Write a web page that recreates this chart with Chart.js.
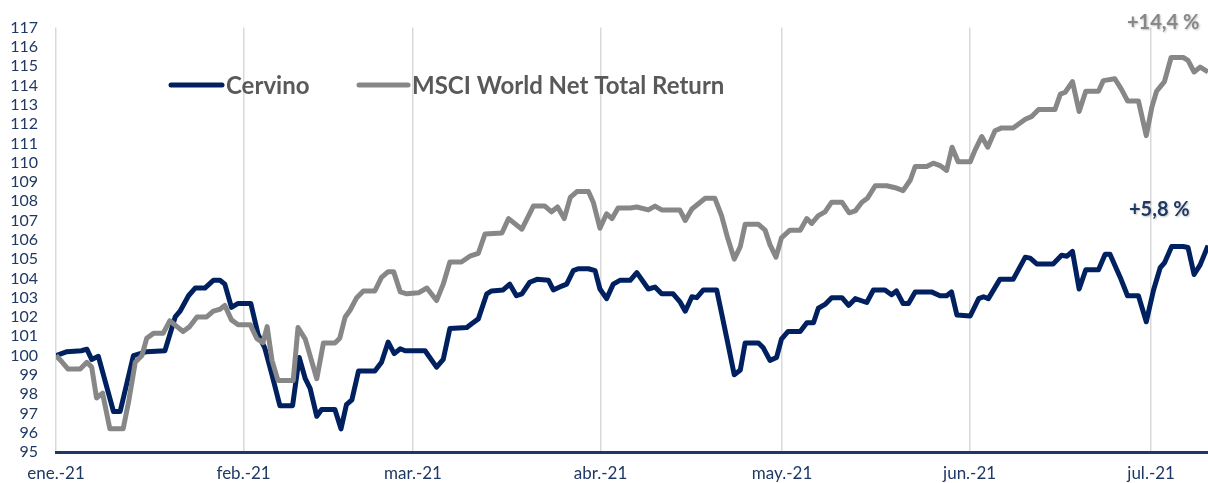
<!DOCTYPE html>
<html>
<head>
<meta charset="utf-8">
<script src="https://cdn.jsdelivr.net/npm/chart.js@4"></script>
<style>
  body { margin: 0; background: #fff; }
  #wrap { width: 1208px; height: 483px; position: relative; }
</style>
</head>
<body>
<div id="wrap"><canvas id="myChart"></canvas></div>
<script>
// days counted from 1 Jan 2021
var monthStarts = [0, 31, 59, 90, 120, 151, 181];
var monthLabels = ['ene.-21', 'feb.-21', 'mar.-21', 'abr.-21', 'may.-21', 'jun.-21', 'jul.-21'];

var cervinoDays = [0, 1.8, 4.2, 5.1, 5.9, 7.0, 9.5, 10.6, 12.8, 15.0, 18.0, 19.7, 20.5, 21.9, 23.0, 24.6, 26.0, 27.1, 27.9, 29.0, 30.1,
  32.2, 33.4, 34.5, 35.7, 37.0, 39.1, 40.2, 41.2, 42.0, 43.1, 43.9, 46.1, 47.1, 48.0, 48.9, 50.0, 52.7, 53.8, 54.9, 55.9, 56.9, 57.7,
  61.0, 62.9, 64.0, 65.1, 67.9, 68.7, 69.8, 71.2, 72.0, 73.9, 75.0, 76.1, 77.0, 78.3, 79.5, 81.4, 82.2, 83.6, 84.4, 85.5, 86.3, 88.0, 89.1,
  89.9, 91.0, 92.1, 93.2, 94.9, 96.0, 97.9, 99.0, 100.1, 102.0, 103.1, 104.0, 105.1, 105.9, 107.0, 109.2, 110.0, 110.9, 112.1, 113.1,
  113.9, 116.1, 116.9, 118.0, 119.1, 119.9, 121.0, 123.0, 124.1, 125.2, 126.0, 127.1, 128.2, 129.9, 131.0, 132.1, 134.0, 135.1, 137.0,
  138.1, 138.9, 140.0, 140.9, 142.0, 144.7, 146.1, 147.2, 148.0, 148.9, 151.1, 152.5, 153.3, 154.1, 156.0, 158.2, 160.2, 161.0, 162.1,
  164.8, 166.2, 167.1, 168.0, 169.1, 170.2, 172.3, 173.4, 174.2, 175.9, 177.1, 178.9, 180.2, 181.4, 182.5, 183.2, 184.4, 186.3, 187.1,
  188.1, 189.1, 190.4];
var cervinoValues = [100.0, 100.2, 100.25, 100.33, 99.8, 99.96, 97.1, 97.1, 100.0, 100.2, 100.25, 102.0, 102.3, 103.1, 103.5, 103.5, 103.9, 103.9, 103.7, 102.5, 102.7,
  102.7, 101.1, 100.4, 99.0, 97.4, 97.4, 99.9, 98.8, 98.3, 96.85, 97.2, 97.2, 96.2, 97.45, 97.7, 99.2, 99.2, 99.65, 100.7, 100.1, 100.35, 100.25,
  100.25, 99.4, 99.8, 101.4, 101.45, 101.65, 101.9, 103.2, 103.35, 103.4, 103.7, 103.1, 103.2, 103.8, 103.95, 103.9, 103.4, 103.6, 103.7, 104.4, 104.5, 104.5, 104.4,
  103.45, 102.95, 103.7, 103.9, 103.9, 104.3, 103.45, 103.55, 103.2, 103.2, 102.8, 102.3, 103.05, 103.0, 103.4, 103.4, 102.2, 100.85, 99.0, 99.25,
  100.65, 100.65, 100.4, 99.75, 99.9, 100.85, 101.25, 101.25, 101.7, 101.7, 102.45, 102.65, 103.0, 103.0, 102.6, 102.95, 102.75, 103.4, 103.4,
  103.15, 103.35, 102.7, 102.7, 103.3, 103.3, 103.1, 103.1, 103.3, 102.1, 102.05, 102.95, 103.05, 102.95, 103.95, 103.95, 105.1, 105.05, 104.75,
  104.75, 105.2, 105.15, 105.4, 103.45, 104.45, 104.45, 105.25, 105.25, 104.05, 103.1, 103.1, 101.75, 103.4, 104.55, 104.8, 105.65, 105.65, 105.6,
  104.2, 104.7, 105.7];

var msciDays = [0, 0.9, 2.0, 4.0, 5.1, 5.9, 6.7, 7.7, 8.9, 11.1, 12.0, 13.1, 14.2, 15.0, 16.1, 17.7, 18.8, 20.0, 21.0, 22.1, 23.3, 24.9,
  26.0, 27.1, 27.9, 29.0, 30.1, 32.1, 33.2, 34.2, 34.9, 35.7, 36.7, 39.2, 40.0, 41.2, 43.1, 44.2, 46.1, 46.9, 47.8, 48.6, 49.7, 50.8,
  52.7, 53.8, 54.9, 55.8, 56.9, 58.0, 59.9, 61.3, 62.9, 64.0, 65.1, 67.0, 68.4, 69.8, 70.9, 73.7, 74.8, 77.0, 78.9, 80.8, 81.9, 82.9,
  84.0, 85.0, 86.1, 88.0, 88.8, 89.9, 91.0, 91.9, 92.9, 94.9, 96.0, 97.9, 99.0, 100.1, 103.1, 104.0, 105.1, 107.3, 108.9, 110.0, 111.0,
  112.1, 113.1, 113.9, 116.1, 117.2, 118.0, 119.0, 119.9, 121.3, 123.0, 124.1, 124.9, 126.0, 127.1, 128.2, 129.9, 131.1, 132.1, 133.2,
  134.1, 135.4, 137.3, 138.7, 140.0, 141.2, 142.0, 143.9, 145.0, 146.1, 147.2, 148.1, 149.1, 151.1, 151.9, 153.0, 154.0, 155.2, 156.3,
  158.2, 160.2, 161.3, 162.4, 165.1, 166.0, 166.8, 168.0, 169.1, 170.2, 172.3, 173.1, 175.0, 176.1, 177.1, 178.9, 180.2, 181.1, 181.9,
  183.2, 184.3, 186.3, 187.1, 188.1, 189.1, 190.4];
var msciValues = [100.0, 99.7, 99.3, 99.3, 99.65, 99.4, 97.8, 98.05, 96.2, 96.2, 97.6, 99.65, 100.0, 100.9, 101.15, 101.15, 101.8, 101.5, 101.25, 101.5, 102.0, 102.0,
  102.3, 102.4, 102.6, 101.85, 101.6, 101.6, 100.87, 100.67, 101.5, 99.75, 98.7, 98.7, 101.45, 100.85, 98.8, 100.65, 100.65, 100.9, 102.0, 102.35, 103.0, 103.35,
  103.35, 104.05, 104.35, 104.35, 103.3, 103.2, 103.25, 103.5, 102.85, 103.7, 104.85, 104.85, 105.15, 105.3, 106.3, 106.35, 107.1, 106.55, 107.75, 107.75, 107.45, 107.7,
  107.1, 108.2, 108.5, 108.5, 107.95, 106.6, 107.35, 107.1, 107.65, 107.65, 107.7, 107.55, 107.75, 107.55, 107.55, 107.0, 107.6, 108.15, 108.15, 107.25, 106.1,
  105.0, 105.65, 106.8, 106.8, 106.5, 105.75, 105.1, 106.1, 106.5, 106.5, 107.1, 106.85, 107.25, 107.45, 107.95, 107.95, 107.4, 107.5, 107.95,
  108.15, 108.8, 108.8, 108.7, 108.55, 109.1, 109.8, 109.8, 109.97, 109.85, 109.6, 110.8, 110.05, 110.05, 110.65, 111.35, 110.8, 111.65, 111.8,
  111.8, 112.25, 112.4, 112.75, 112.75, 113.55, 113.65, 114.2, 112.65, 113.7, 113.7, 114.25, 114.35, 113.8, 113.2, 113.2, 111.4, 112.85, 113.7,
  114.2, 115.45, 115.45, 115.3, 114.7, 114.95, 114.7];

var seriesNames = ['Cervino', 'MSCI World Net Total Return'];
var endLabels = ['+5,8 %', '+14,4 %'];

const navy = '#002060';
const grey = '#878787';
const axisBlue = '#1F3864';

const toPoints = (xs, ys) => xs.map((x, i) => ({ x: x, y: ys[i] }));

// legend drawn inside the plot, plus the end-of-line labels
const overlayPlugin = {
  id: 'overlay',
  afterDatasetsDraw(chart) {
    const ctx = chart.ctx;
    const y = 85;
    const items = [
      { color: navy, text: seriesNames[0], x0: 171, x1: 222 },
      { color: grey, text: seriesNames[1], x0: 359, x1: 408 }
    ];
    ctx.save();
    ctx.lineCap = 'round';
    ctx.lineWidth = 5;
    ctx.font = 'bold 24px Lato';
    ctx.textBaseline = 'middle';
    items.forEach(it => {
      ctx.strokeStyle = it.color;
      ctx.beginPath();
      ctx.moveTo(it.x0, y);
      ctx.lineTo(it.x1, y);
      ctx.stroke();
      ctx.fillStyle = '#595959';
      ctx.fillText(it.text, it.x1 + 4, y + 1);
    });

    ctx.font = 'bold 20px Lato';
    ctx.textAlign = 'left';
    ctx.shadowColor = 'rgba(0,0,0,0.25)';
    ctx.shadowBlur = 2;
    ctx.shadowOffsetX = 1;
    ctx.shadowOffsetY = 1;
    ctx.fillStyle = grey;
    ctx.fillText(endLabels[1], 1127, 23);
    ctx.fillStyle = axisBlue;
    ctx.fillText(endLabels[0], 1129, 210);
    ctx.restore();
  }
};

const data = {
  datasets: [
    {
      label: seriesNames[0],
      data: toPoints(cervinoDays, cervinoValues),
      borderColor: navy,
      backgroundColor: navy,
      borderWidth: 5,
      pointRadius: 0,
      tension: 0,
      borderJoinStyle: 'round',
      order: 2
    },
    {
      label: seriesNames[1],
      data: toPoints(msciDays, msciValues),
      borderColor: grey,
      backgroundColor: grey,
      borderWidth: 5,
      pointRadius: 0,
      tension: 0,
      borderJoinStyle: 'round',
      order: 1
    }
  ]
};

const config = {
  type: 'line',
  data: data,
  options: {
    responsive: true,
    maintainAspectRatio: false,
    animation: false,
    layout: { padding: { top: 17, right: 0, left: 0, bottom: 0 } },
    plugins: {
      legend: { display: false },
      tooltip: { enabled: false }
    },
    scales: {
      x: {
        type: 'linear',
        min: 0,
        max: 190.4,
        afterBuildTicks: scale => {
          scale.ticks = monthStarts.map(v => ({ value: v }));
        },
        afterFit: scale => { scale.height = 31; },
        ticks: {
          autoSkip: false,
          maxRotation: 0,
          padding: 11,
          color: axisBlue,
          font: { family: 'Lato', size: 17 },
          callback: value => monthLabels[monthStarts.indexOf(value)]
        },
        grid: { color: '#d9d9d9', lineWidth: 1.5, drawTicks: false },
        border: { display: true, color: axisBlue, width: 3 }
      },
      y: {
        min: 95,
        max: 117,
        afterFit: scale => { scale.width = 56; },
        ticks: {
          stepSize: 1,
          autoSkip: false,
          padding: 18,
          color: axisBlue,
          font: { family: 'Lato', size: 16 }
        },
        grid: { display: false, drawTicks: false },
        border: { display: false }
      }
    }
  },
  plugins: [overlayPlugin]
};

const myChart = new Chart(document.getElementById('myChart'), config);
</script>
</body>
</html>
